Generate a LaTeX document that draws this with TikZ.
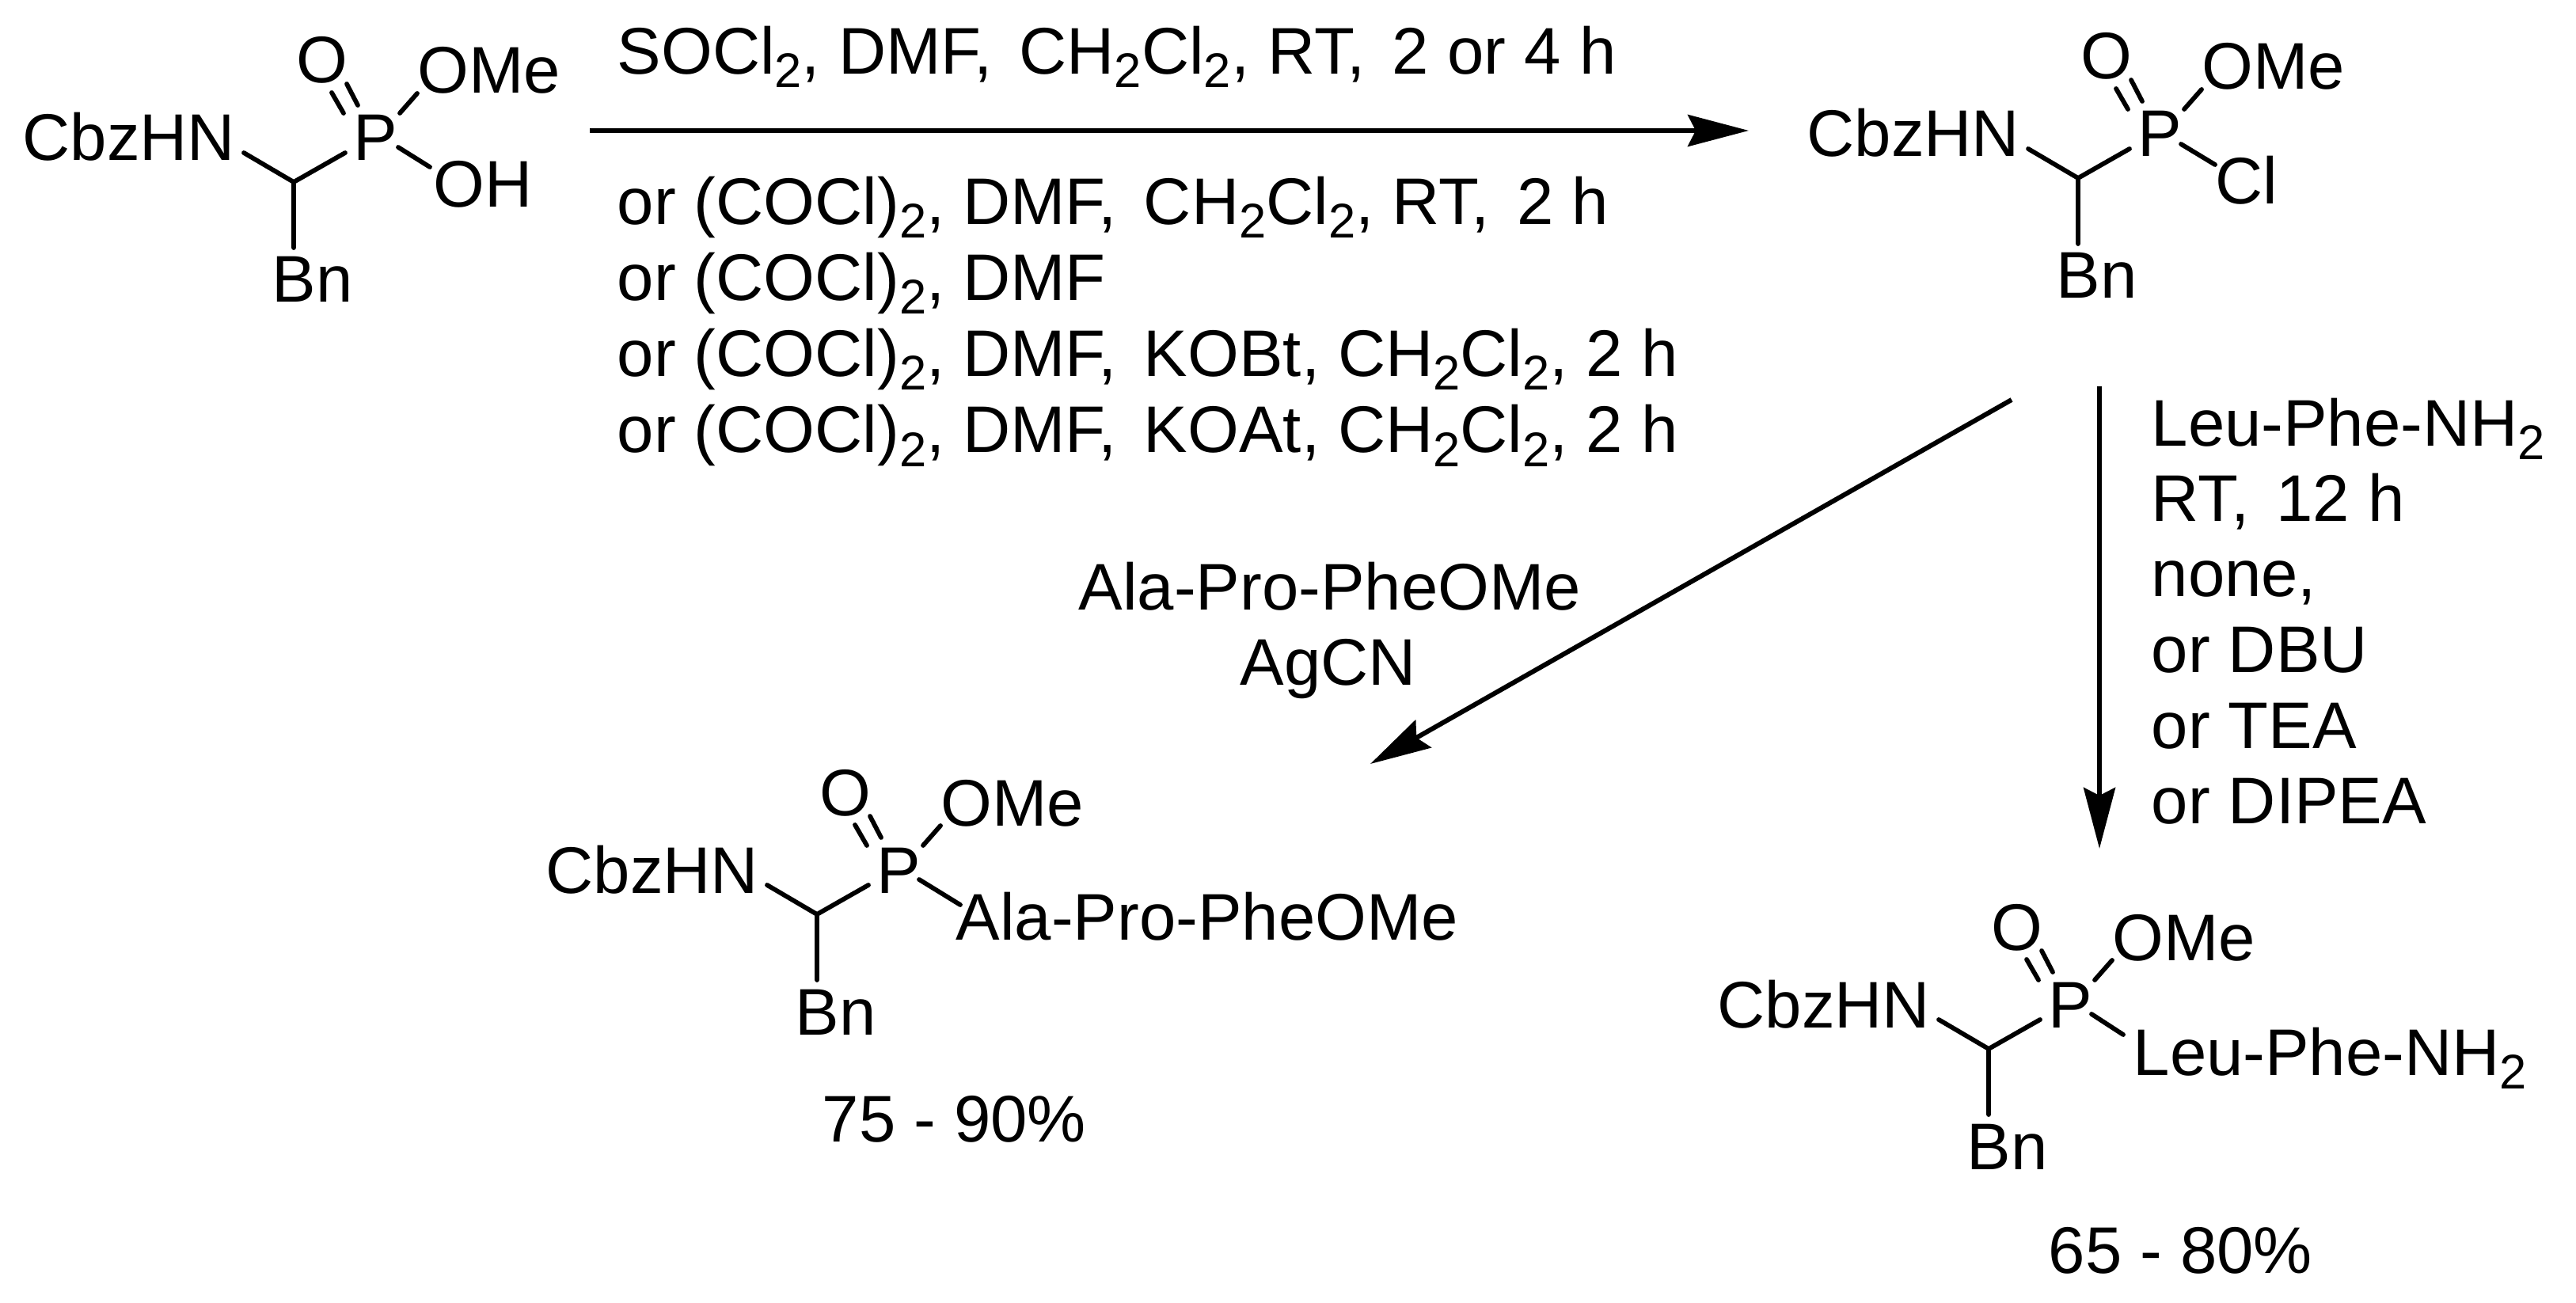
\documentclass[tikz,border=0pt]{standalone}
\usepackage{fontspec}
\setmainfont{Liberation Sans}
\usetikzlibrary{arrows.meta}
\newcommand{\subtwo}{\raisebox{-0.17cm}{\fontsize{17.5}{17.5}\selectfont 2}}
\newcommand{\gap}{\hspace{0.11cm}}
\tikzset{
  chem/.style={anchor=base west,inner sep=0pt,font=\fontsize{23.7}{23.7}\selectfont},
  bond/.style={line width=0.058cm,line cap=round},
  rxn/.style={line width=0.06cm,-{Stealth[length=0.77cm,width=0.40cm,inset=0.1cm]}},
}
\begin{document}
\begin{tikzpicture}
        \useasboundingbox (0,0) rectangle (32.54,-16.46) ;
        % the part that all four molecules share
        \foreach \m/\dx/\dy in {a/0/0,b/22.54/0.05,c/6.61/-9.25,d/21.41/-10.95} {
          \begin{scope}[shift={(\dx,\dy)}]
            \node[chem] (CbzHN\m) at (0.28,-2.03) {CbzHN} ;
            \node[chem] (P\m) at (4.46,-2.03) {P} ;
            \node[chem] (O\m) at (3.74,-1.05) {O} ;
            \node[chem] (OMe\m) at (5.27,-1.18) {OMe} ;
            \node[chem] (Bn\m) at (3.43,-3.82) {Bn} ;
            \coordinate (C\m) at (3.71,-2.30) ;
            \draw[bond] ([shift={(2.80,0.10)}]CbzHN\m.base west) -- (C\m)
              -- ([shift={(-0.10,0.10)}]P\m.base west) ;
            \draw[bond] (C\m) -- ([shift={(0.28,0.69)}]Bn\m.base west) ;
            \draw[bond] ([shift={(-0.12,0.60)}]P\m.base west)
              -- ([shift={(0.45,-0.12)}]O\m.base west) ;
            \draw[bond] ([shift={(0.06,0.70)}]P\m.base west)
              -- ([shift={(0.64,-0.01)}]O\m.base west) ;
            \draw[bond] ([shift={(0.59,0.60)}]P\m.base west) -- (OMe\m.base west) ;
          \end{scope}
        }
        % leaving groups
        \node[chem] (OH) at (5.47,-2.62) {OH} ;
        \node[chem] (Cl) at (27.98,-2.58) {Cl} ;
        \node[chem] (AlaPro) at (12.07,-11.87) {Ala-Pro-PheOMe} ;
        \node[chem] (LeuPhe) at (26.94,-13.58) {Leu-Phe-NH\subtwo} ;
        \draw[bond] ([shift={(0.57,0.17)}]Pa.base west)
          -- ([shift={(-0.04,0.51)}]OH.base west) ;
        \draw[bond] ([shift={(0.55,0.16)}]Pb.base west)
          -- ([shift={(0.00,0.50)}]Cl.base west) ;
        \draw[bond] ([shift={(0.54,0.17)}]Pc.base west)
          -- ([shift={(0.06,0.44)}]AlaPro.base west) ;
        \draw[bond] ([shift={(0.55,0.17)}]Pd.base west)
          -- ([shift={(-0.12,0.51)}]LeuPhe.base west) ;
        % conditions
        \node[chem] (top) at (7.79,-0.94) {SOCl\subtwo, DMF,\gap{} CH\subtwo Cl\subtwo, RT,\gap{} 2 or 4 h} ;
        \node[chem] (or1) at (7.79,-2.84) {or (COCl)\subtwo, DMF,\gap{} CH\subtwo Cl\subtwo, RT,\gap{} 2 h} ;
        \node[chem] (or2) at (7.79,-3.80) {or (COCl)\subtwo, DMF} ;
        \node[chem] (or3) at (7.79,-4.76) {or (COCl)\subtwo, DMF,\gap{} KOBt, CH\subtwo Cl\subtwo, 2 h} ;
        \node[chem] (or4) at (7.79,-5.72) {or (COCl)\subtwo, DMF,\gap{} KOAt, CH\subtwo Cl\subtwo, 2 h} ;
        \node[chem] (ala) at (13.62,-7.70) {Ala-Pro-PheOMe} ;
        \node[chem] (ag) at (15.66,-8.65) {AgCN} ;
        \node[chem] (leu) at (27.17,-5.63) {Leu-Phe-NH\subtwo} ;
        \node[chem] (rt) at (27.17,-6.58) {RT,\gap{} 12 h} ;
        \node[chem] (none) at (27.17,-7.53) {none,} ;
        \node[chem] (dbu) at (27.17,-8.49) {or DBU} ;
        \node[chem] (tea) at (27.17,-9.45) {or TEA} ;
        \node[chem] (dipea) at (27.17,-10.40) {or DIPEA} ;
        \node[chem] (y75) at (10.38,-14.42) {75 - 90\%} ;
        \node[chem] (y65) at (25.87,-16.08) {65 - 80\%} ;
        % arrows
        \coordinate (s1) at (7.45,-1.65) ;
        \coordinate (e1) at (22.09,-1.65) ;
        \coordinate (s2) at (25.41,-5.05) ;
        \coordinate (e2) at (17.31,-9.65) ;
        \coordinate (s3) at (26.52,-4.88) ;
        \coordinate (e3) at (26.52,-10.72) ;
        \draw[rxn] (s1) -- (e1) ;
        \draw[rxn] (s2) -- (e2) ;
        \draw[rxn] (s3) -- (e3) ;
      \end{tikzpicture}
\end{document}
